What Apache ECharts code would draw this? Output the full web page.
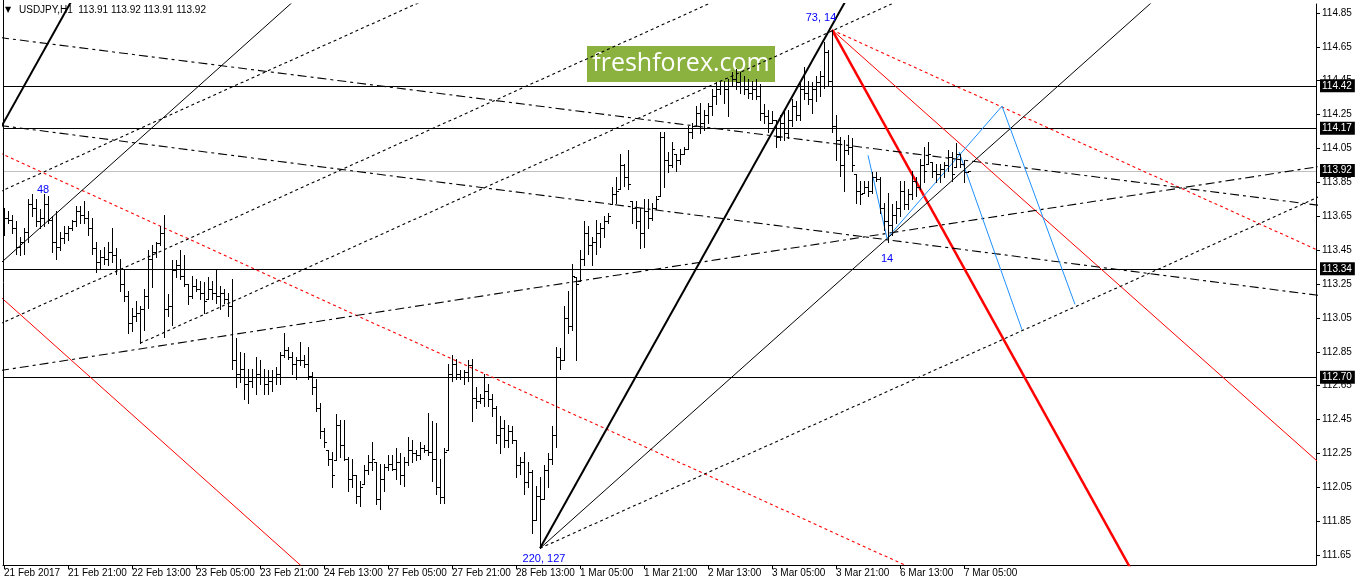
<!DOCTYPE html>
<html><head><meta charset="utf-8">
<script src="https://cdn.jsdelivr.net/npm/echarts@6/dist/echarts.min.js"></script>
<style>html,body{margin:0;padding:0;background:#fff}#c{width:1358px;height:584px}</style>
</head><body><div id="c"></div>
<script>
// ---- OHLC data (H1 bars, index 0 = 21 Feb 2017 05:00) ----
const highs = [113.70,113.68,113.66,113.62,113.53,113.58,113.75,113.78,113.75,113.69,
113.78,113.77,113.65,113.68,113.56,113.59,113.59,113.63,113.71,113.71,
113.74,113.68,113.64,113.50,113.45,113.47,113.50,113.58,113.46,113.40,
113.34,113.21,113.11,113.15,113.12,113.22,113.45,113.48,113.50,113.59,
113.66,113.19,113.39,113.39,113.45,113.42,113.25,113.30,113.28,113.27,
113.26,113.29,113.27,113.34,113.24,113.22,113.20,113.28,112.93,112.85,
112.84,112.75,112.75,112.82,112.80,112.75,112.74,112.74,112.76,112.85,
112.96,112.88,112.85,112.82,112.91,112.83,112.88,112.73,112.69,112.55,
112.40,112.27,112.26,112.48,112.45,112.45,112.23,112.22,112.12,112.09,
112.18,112.24,112.32,112.20,112.19,112.19,112.24,112.24,112.28,112.25,
112.23,112.35,112.33,112.27,112.32,112.30,112.49,112.44,112.43,112.22,
112.28,112.78,112.83,112.81,112.74,112.74,112.80,112.81,112.64,112.60,
112.72,112.66,112.60,112.53,112.47,112.45,112.42,112.41,112.33,112.23,
112.26,112.20,112.15,112.06,112.11,112.18,112.25,112.41,112.88,112.87,
113.12,113.21,113.37,113.29,113.45,113.62,113.59,113.53,113.63,113.61,
113.65,113.67,113.82,113.88,114.02,113.96,114.04,113.74,113.74,113.70,
113.75,113.75,113.73,113.77,114.15,114.15,114.03,114.09,114.02,114.05,
114.06,114.18,114.20,114.30,114.32,114.28,114.32,114.40,114.44,114.45,
114.45,114.46,114.50,114.52,114.50,114.48,114.46,114.45,114.46,114.43,
114.31,114.28,114.27,114.22,114.25,114.27,114.28,114.34,114.33,114.45,
114.53,114.45,114.44,114.48,114.51,114.68,114.63,114.75,114.25,114.12,
114.10,114.13,114.11,113.90,113.86,113.86,113.86,113.91,113.91,113.88,
113.73,113.79,113.72,113.74,113.86,113.86,113.81,113.92,113.88,113.99,
114.06,114.09,113.97,113.96,113.96,113.97,114.04,114.03,114.08,114.02,
113.98,113.92];
const lows = [113.54,113.61,113.55,113.43,113.42,113.43,113.50,113.65,113.59,113.58,
113.59,113.61,113.44,113.40,113.45,113.49,113.51,113.57,113.59,113.61,
113.61,113.54,113.43,113.32,113.34,113.37,113.36,113.38,113.31,113.21,
113.15,112.96,112.97,113.03,112.90,112.98,113.11,113.23,113.41,113.48,
112.94,113.06,113.01,113.29,113.28,113.24,113.13,113.17,113.21,113.16,
113.08,113.16,113.16,113.14,113.10,113.14,113.06,112.75,112.64,112.67,
112.57,112.55,112.64,112.60,112.66,112.60,112.60,112.62,112.66,112.66,
112.82,112.81,112.72,112.69,112.77,112.76,112.69,112.60,112.50,112.34,
112.29,112.18,112.05,112.21,112.23,112.21,112.03,112.05,111.96,111.94,
112.07,112.13,112.15,111.95,111.92,112.03,112.15,112.15,112.10,112.07,
112.06,112.18,112.20,112.21,112.22,112.26,112.24,112.09,112.01,111.96,
111.96,112.27,112.68,112.69,112.69,112.66,112.68,112.44,112.52,112.55,
112.53,112.53,112.47,112.31,112.25,112.29,112.29,112.31,112.11,112.13,
112.01,112.05,111.78,111.86,111.69,111.98,112.05,112.19,112.29,112.75,
112.80,112.96,112.98,112.80,113.27,113.36,113.43,113.36,113.43,113.47,
113.53,113.61,113.72,113.73,113.81,113.83,113.81,113.61,113.58,113.46,
113.47,113.58,113.63,113.69,113.77,113.82,113.91,113.94,113.92,113.96,
114.02,114.05,114.11,114.18,114.14,114.16,114.20,114.25,114.31,114.37,
114.32,114.24,114.42,114.40,114.38,114.37,114.35,114.34,114.34,114.22,
114.20,114.15,114.20,114.06,114.10,114.10,114.11,114.18,114.22,114.22,
114.34,114.31,114.26,114.33,114.36,114.41,114.42,114.15,113.98,113.89,
113.80,114.02,113.92,113.73,113.72,113.79,113.77,113.79,113.86,113.67,
113.57,113.50,113.54,113.61,113.65,113.69,113.69,113.75,113.77,113.81,
113.85,113.96,113.88,113.85,113.85,113.88,113.92,113.86,113.94,113.94,
113.85,113.91];
const opens = [113.62,113.64,113.63,113.58,113.47,113.50,113.56,113.72,113.70,113.62,
113.64,113.72,113.63,113.50,113.47,113.52,113.55,113.58,113.62,113.68,
113.66,113.64,113.58,113.46,113.38,113.41,113.40,113.44,113.42,113.34,
113.25,113.18,113.02,113.06,113.08,113.10,113.18,113.40,113.44,113.49,
113.55,113.10,113.12,113.33,113.36,113.30,113.25,113.18,113.24,113.22,
113.20,113.16,113.22,113.20,113.18,113.20,113.16,113.12,112.80,112.72,
112.75,112.66,112.68,112.70,112.72,112.70,112.66,112.68,112.70,112.72,
112.83,112.86,112.82,112.78,112.80,112.80,112.78,112.71,112.64,112.52,
112.38,112.27,112.22,112.21,112.42,112.30,112.22,112.10,112.12,112.00,
112.07,112.15,112.20,112.20,111.98,112.10,112.17,112.19,112.16,112.20,
112.12,112.20,112.27,112.25,112.24,112.28,112.27,112.26,112.22,112.05,
111.99,112.27,112.72,112.78,112.72,112.70,112.73,112.77,112.58,112.56,
112.58,112.62,112.57,112.52,112.36,112.40,112.33,112.38,112.33,112.18,
112.20,112.08,112.14,111.86,112.00,111.98,112.15,112.22,112.36,112.82,
112.80,113.05,113.00,113.29,113.27,113.40,113.55,113.48,113.50,113.55,
113.58,113.62,113.72,113.78,113.81,113.95,113.88,113.74,113.70,113.62,
113.55,113.68,113.64,113.70,113.77,114.12,113.98,113.95,114.02,113.98,
114.02,114.05,114.15,114.18,114.26,114.20,114.25,114.30,114.36,114.40,
114.42,114.40,114.42,114.46,114.44,114.42,114.40,114.38,114.40,114.36,
114.26,114.24,114.20,114.22,114.12,114.20,114.14,114.22,114.30,114.25,
114.40,114.38,114.34,114.40,114.44,114.48,114.62,114.45,114.18,114.10,
113.95,114.04,114.06,113.90,113.80,113.79,113.82,113.80,113.88,113.87,
113.70,113.62,113.60,113.66,113.70,113.80,113.72,113.78,113.86,113.82,
113.95,113.96,113.97,113.92,113.90,113.93,113.95,114.00,113.94,114.02,
113.96,113.91];
const closes = [113.64,113.63,113.58,113.47,113.50,113.56,113.72,113.70,113.62,113.64,
113.72,113.63,113.50,113.47,113.52,113.55,113.58,113.62,113.68,113.66,
113.64,113.58,113.46,113.38,113.41,113.40,113.44,113.42,113.34,113.25,
113.18,113.02,113.06,113.08,113.10,113.18,113.40,113.44,113.49,113.55,
113.10,113.12,113.33,113.36,113.30,113.25,113.18,113.24,113.22,113.20,
113.15,113.22,113.20,113.18,113.20,113.16,113.12,112.80,112.72,112.75,
112.66,112.68,112.70,112.72,112.70,112.66,112.68,112.70,112.72,112.83,
112.86,112.82,112.78,112.80,112.80,112.78,112.71,112.64,112.52,112.38,
112.32,112.22,112.12,112.42,112.30,112.22,112.10,112.12,112.00,112.05,
112.15,112.20,112.22,111.98,112.10,112.17,112.19,112.16,112.20,112.12,
112.20,112.27,112.25,112.24,112.28,112.27,112.26,112.22,112.05,111.99,
112.26,112.72,112.78,112.72,112.70,112.73,112.77,112.58,112.56,112.58,
112.62,112.57,112.52,112.36,112.40,112.33,112.38,112.33,112.18,112.20,
112.08,112.14,111.86,112.00,111.98,112.15,112.22,112.36,112.82,112.80,
113.05,113.00,113.30,113.25,113.40,113.55,113.48,113.50,113.55,113.58,
113.62,113.65,113.78,113.80,113.95,113.88,113.84,113.70,113.62,113.55,
113.68,113.64,113.70,113.75,114.12,113.98,113.95,114.05,113.98,114.02,
114.05,114.15,114.18,114.26,114.20,114.25,114.30,114.36,114.40,114.42,
114.40,114.42,114.46,114.44,114.42,114.40,114.38,114.40,114.36,114.26,
114.24,114.20,114.22,114.12,114.20,114.14,114.22,114.30,114.25,114.40,
114.38,114.34,114.40,114.44,114.48,114.62,114.45,114.18,114.10,113.95,
114.04,114.06,113.95,113.80,113.78,113.82,113.80,113.88,113.87,113.70,
113.62,113.60,113.66,113.70,113.80,113.72,113.78,113.86,113.82,113.95,
113.92,114.02,113.92,113.90,113.93,113.95,114.00,113.90,114.02,113.96,
113.91,113.92];

// ---- axes ----
const priceTicks = [111.65,111.85,112.05,112.25,112.45,112.65,112.85,113.05,113.25,113.45,113.65,113.85,114.05,114.25,114.45,114.65,114.85];
const timeTickIdx = [0,16,32,48,64,80,96,112,128,144,160,176,192,208,224,240];
const timeTickLabels = ['21 Feb 2017','21 Feb 21:00','22 Feb 13:00','23 Feb 05:00','23 Feb 21:00','24 Feb 13:00','27 Feb 05:00','27 Feb 21:00','28 Feb 13:00','1 Mar 05:00','1 Mar 21:00','2 Mar 13:00','3 Mar 05:00','3 Mar 21:00','6 Mar 13:00','7 Mar 05:00'];

// ---- drawn objects (anchors as [bar index, price]) ----
const levels = [114.42, 114.17, 113.34, 112.70];
const lastPrice = 113.92;
const boxedLabels = [114.42, 114.17, 113.92, 113.34, 112.70];
const thickBlackLines = [[[134,111.69],[230,115.75]], [[-1,114.165],[25,115.265]]];
const thinBlackLines = [[[134,111.69],[300,115.188]], [[-1,113.37],[80,115.08]]];
const dottedBlackLines = [[[134,111.69],[330,113.779]], [[-1,113.795],[150,115.404]], [[-1,113.015],[200,115.158]], [[34,112.90],[250,115.203]]];
const dashDotLines = [[[-1,114.705],[330,113.711]], [[-1,114.186],[330,113.179]], [[-1,112.739],[330,113.948]]];
const thinRedLines = [[[207,114.75],[330,112.169]], [[-1,113.177],[80,111.466]]];
const thickRedLines = [[[207,114.75],[290,111.215]]];
const dottedRedLines = [[[207,114.75],[330,113.433]], [[-1,114.023],[240,111.432]]];
const blueLines = [[[216,114.01],[220.75,113.52]], [[220.75,113.52],[249.5,114.30]], [[249.5,114.30],[267.75,113.13]], [[238.75,114.03],[254.5,112.98]]];
const textMarks = [[9.75,113.805,'48'], [204.25,114.82,'73, 14'], [220.75,113.40,'14'], [135,111.63,'220, 127']];

const FONT = '"Liberation Sans", Arial, sans-serif';
const YMIN = 111.5915, YMAX = 114.903;

const ohlc = highs.map((h, i) => [i, opens[i], h, lows[i], closes[i]]);

function seg(points, color, width, dash) {
  return {type: 'line', data: points, symbol: 'none', showSymbol: false, silent: true, clip: true, z: 3,
    lineStyle: {color: color, width: width, type: dash || 'solid', cap: 'butt'}};
}
const series = [];
// horizontal levels (crisp)
series.push({
  type: 'custom', clip: true, z: 2, silent: true,
  data: levels.map(v => [v, 0]).concat([[lastPrice, 1]]),
  renderItem: function (params, api) {
    const y = Math.round(api.coord([0, api.value(0)])[1]);
    const cs = params.coordSys;
    return {type: 'rect', shape: {x: cs.x, y: y, width: cs.width, height: 1},
      style: {fill: api.value(1) === 1 ? '#c0c0c0' : '#000'}};
  }
});
dottedRedLines.forEach(p => series.push(seg(p, '#ff0000', 1.1, [3, 3])));
thinRedLines.forEach(p => series.push(seg(p, '#ff0000', 1)));
thickRedLines.forEach(p => series.push(seg(p, '#ff0000', 2.5)));
dottedBlackLines.forEach(p => series.push(seg(p, '#000', 1.1, [3, 3])));
dashDotLines.forEach(p => series.push(seg(p, '#000', 1.1, [9, 4, 3, 4])));
thinBlackLines.forEach(p => series.push(seg(p, '#000', 1)));
thickBlackLines.forEach(p => series.push(seg(p, '#000', 2)));
blueLines.forEach(p => series.push(seg(p, '#1e90ff', 1)));

// OHLC bars: high-low stem, open tick left, close tick right
series.push({
  type: 'custom', clip: true, z: 5, silent: true,
  data: ohlc,
  renderItem: function (params, api) {
    const i = api.value(0);
    const o = api.coord([i, api.value(1)]);
    const h = api.coord([i, api.value(2)]);
    const l = api.coord([i, api.value(3)]);
    const c = api.coord([i, api.value(4)]);
    const x = Math.round(h[0]);
    const yh = Math.round(h[1]), yl = Math.round(l[1]);
    return {type: 'group', children: [
      {type: 'rect', shape: {x: x, y: yh, width: 1, height: Math.max(1, yl - yh + 1)}, style: {fill: '#000'}},
      {type: 'rect', shape: {x: x - 2, y: Math.round(o[1]), width: 2, height: 1}, style: {fill: '#000'}},
      {type: 'rect', shape: {x: x + 1, y: Math.round(c[1]), width: 2, height: 1}, style: {fill: '#000'}}
    ]};
  }
});
// blue text marks
series.push({
  type: 'custom', clip: false, z: 6, silent: true,
  data: textMarks,
  renderItem: function (params, api) {
    const p = api.coord([api.value(0), api.value(1)]);
    return {type: 'text', x: p[0], y: p[1], style: {text: textMarks[params.dataIndex][2], fill: '#0000ff',
      font: '11px ' + FONT, align: 'center', verticalAlign: 'middle'}};
  }
});

const option = {
  animation: false,
  backgroundColor: '#fff',
  grid: {left: 3, right: 42, top: 4, bottom: 19, show: false, containLabel: false, outerBoundsMode: 'none'},
  xAxis: {type: 'value', min: -0.25, max: 328,
    axisLine: {show: true, onZero: false, lineStyle: {color: '#000', width: 1}},
    axisTick: {show: true, customValues: timeTickIdx, length: 4, lineStyle: {color: '#000'}},
    axisLabel: {customValues: timeTickIdx, formatter: v => timeTickLabels[timeTickIdx.indexOf(Math.round(v))] || '',
      align: 'left', margin: 3, color: '#000', fontFamily: FONT, fontSize: 10, hideOverlap: false},
    splitLine: {show: false}},
  yAxis: [
    {type: 'value', position: 'right', min: YMIN, max: YMAX,
      axisLine: {show: true, onZero: false, lineStyle: {color: '#000', width: 1}},
      axisTick: {show: true, customValues: priceTicks, length: 4, lineStyle: {color: '#000'}},
      axisLabel: {customValues: priceTicks, formatter: v => v.toFixed(2), color: '#000', fontFamily: FONT, fontSize: 10, margin: 6, hideOverlap: false},
      splitLine: {show: false}},
    {type: 'value', position: 'right', min: YMIN, max: YMAX, z: 10,
      axisLine: {show: false, onZero: false}, axisTick: {show: false}, splitLine: {show: false},
      axisLabel: {customValues: boxedLabels, formatter: v => v.toFixed(2), color: '#fff', backgroundColor: '#000',
        padding: [2, 3, 1, 2], fontFamily: FONT, fontSize: 10, margin: 4, hideOverlap: false}}
  ],
  graphic: [
    {type: 'line', z: 100, shape: {x1: 3.5, y1: 0, x2: 3.5, y2: 565}, style: {stroke: '#000', lineWidth: 1}},
    {type: 'text', left: 5, top: 6, z: 100, style: {text: '\u25BC', fill: '#000', font: '8px "DejaVu Sans", sans-serif'}},
    {type: 'text', left: 19, top: 5, z: 100, style: {text: 'USDJPY,H1  113.91 113.92 113.91 113.92', fill: '#000', font: '10px ' + FONT}},
    {type: 'group', left: 587, top: 46, z: 100, children: [
      {type: 'rect', shape: {x: 0, y: 0, width: 188, height: 36}, style: {fill: '#8bb23f'}},
      {type: 'text', x: 94, y: 18, style: {text: 'freshforex.com', fill: '#ffffff', font: '25px "Open Sans", "Noto Sans", sans-serif', align: 'center', verticalAlign: 'middle'}}
    ]}
  ],
  series: series
};
const chart = echarts.init(document.getElementById('c'), null, {renderer: 'canvas'});
chart.setOption(option);
</script>
</body></html>
